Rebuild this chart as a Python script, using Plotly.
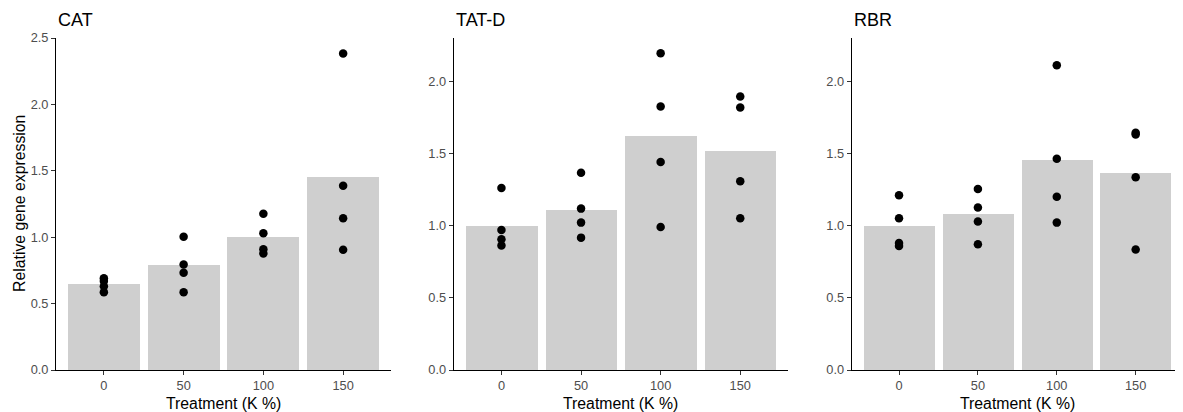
import plotly.graph_objects as go

# ---- data ----
treatments = ["0", "50", "100", "150"]
genes = ["CAT", "TAT-D", "RBR"]

cat_means = [0.648, 0.788, 0.999, 1.456]
cat_points = [
    [0.69, 0.67, 0.63, 0.585],
    [1.004, 0.795, 0.733, 0.585],
    [1.177, 1.029, 0.909, 0.878],
    [2.384, 1.388, 1.142, 0.906],
]

tatd_means = [1.0, 1.107, 1.619, 1.52]
tatd_points = [
    [1.261, 0.970, 0.906, 0.862],
    [1.367, 1.118, 1.021, 0.917],
    [2.194, 1.825, 1.441, 0.991],
    [1.894, 1.818, 1.308, 1.051],
]

rbr_means = [1.0, 1.079, 1.453, 1.363]
rbr_points = [
    [1.211, 1.051, 0.880, 0.859],
    [1.254, 1.125, 1.028, 0.871],
    [2.111, 1.464, 1.201, 1.021],
    [1.644, 1.631, 1.335, 0.834],
]

y_ranges = [[0, 2.5], [0, 2.30], [0, 2.30]]
y_ticks = [[0, 0.5, 1.0, 1.5, 2.0, 2.5], [0, 0.5, 1.0, 1.5, 2.0], [0, 0.5, 1.0, 1.5, 2.0]]

means_all = [cat_means, tatd_means, rbr_means]
points_all = [cat_points, tatd_points, rbr_points]

# ---- layout geometry (page pixels; the page body has an 8px margin) ----
OFF = 8
W, H = 1183 - OFF, 412 - OFF
x_doms = [(56, 391), (453.7, 788), (851.7, 1183)]
y_top, y_bot = 38, 370


def fx(px):
    return (px - OFF) / W


def fy(py):
    return 1 - (py - OFF) / H


FONT = "Liberation Sans, Arial, sans-serif"
BAR_COLOR = "#CFCFCF"
TICK_SIZE = 12.8
TITLE_SIZE = 15.8

fig = go.Figure()
annotations = []
layout = {}

for i, (gene, means, pts) in enumerate(zip(genes, means_all, points_all)):
    sfx = "" if i == 0 else str(i + 1)
    xa, ya = "x" + sfx, "y" + sfx
    fig.add_trace(go.Bar(
        x=treatments, y=means, width=0.9,
        marker=dict(color=BAR_COLOR, line=dict(width=0)),
        xaxis=xa, yaxis=ya, showlegend=False, hoverinfo="skip",
    ))
    px, py = [], []
    for t, vals in zip(treatments, pts):
        for v in vals:
            px.append(t)
            py.append(v)
    fig.add_trace(go.Scatter(
        x=px, y=py, mode="markers",
        marker=dict(color="black", size=8.5),
        xaxis=xa, yaxis=ya, showlegend=False,
    ))
    x0, x1 = x_doms[i]
    layout["xaxis" + sfx] = dict(
        domain=[fx(x0), min(fx(x1), 1.0)], anchor=ya,
        type="category", categoryorder="array", categoryarray=treatments,
        range=[-0.6, 3.6], showline=True, linecolor="black", linewidth=1,
        ticks="outside", ticklen=4, tickcolor="#333333", tickwidth=1,
        showgrid=False, zeroline=False,
        tickfont=dict(family=FONT, size=TICK_SIZE, color="#4D4D4D"),
        automargin=False, fixedrange=True,
    )
    layout["yaxis" + sfx] = dict(
        domain=[fy(y_bot), fy(y_top)], anchor=xa,
        range=y_ranges[i], tickvals=y_ticks[i],
        ticktext=[f"{v:.1f}" for v in y_ticks[i]],
        showline=True, linecolor="black", linewidth=1,
        ticks="outside", ticklen=4, tickcolor="#333333", tickwidth=1,
        showgrid=False, zeroline=False,
        tickfont=dict(family=FONT, size=TICK_SIZE, color="#4D4D4D"),
        automargin=False, fixedrange=True,
    )
    # panel title
    annotations.append(dict(
        text=gene, x=fx(x0), y=fy(20), xref="paper", yref="paper",
        xanchor="left", yanchor="middle", showarrow=False,
        font=dict(family=FONT, size=18, color="black"),
    ))
    # x axis title
    annotations.append(dict(
        text="Treatment (K %)", x=fx((x0 + min(x1, 1183)) / 2), y=fy(403),
        xref="paper", yref="paper", xanchor="center", yanchor="middle",
        showarrow=False, font=dict(family=FONT, size=TITLE_SIZE, color="black"),
    ))

annotations.append(dict(
    text="Relative gene expression", x=fx(19), y=fy(204),
    xref="paper", yref="paper", xanchor="center", yanchor="middle",
    textangle=-90, showarrow=False,
    font=dict(family=FONT, size=TITLE_SIZE, color="black"),
))

fig.update_layout(
    width=W, height=H,
    margin=dict(l=0, r=0, t=0, b=0),
    paper_bgcolor="white", plot_bgcolor="white",
    annotations=annotations, bargap=0,
    **layout,
)

fig.write_html("out.html")
